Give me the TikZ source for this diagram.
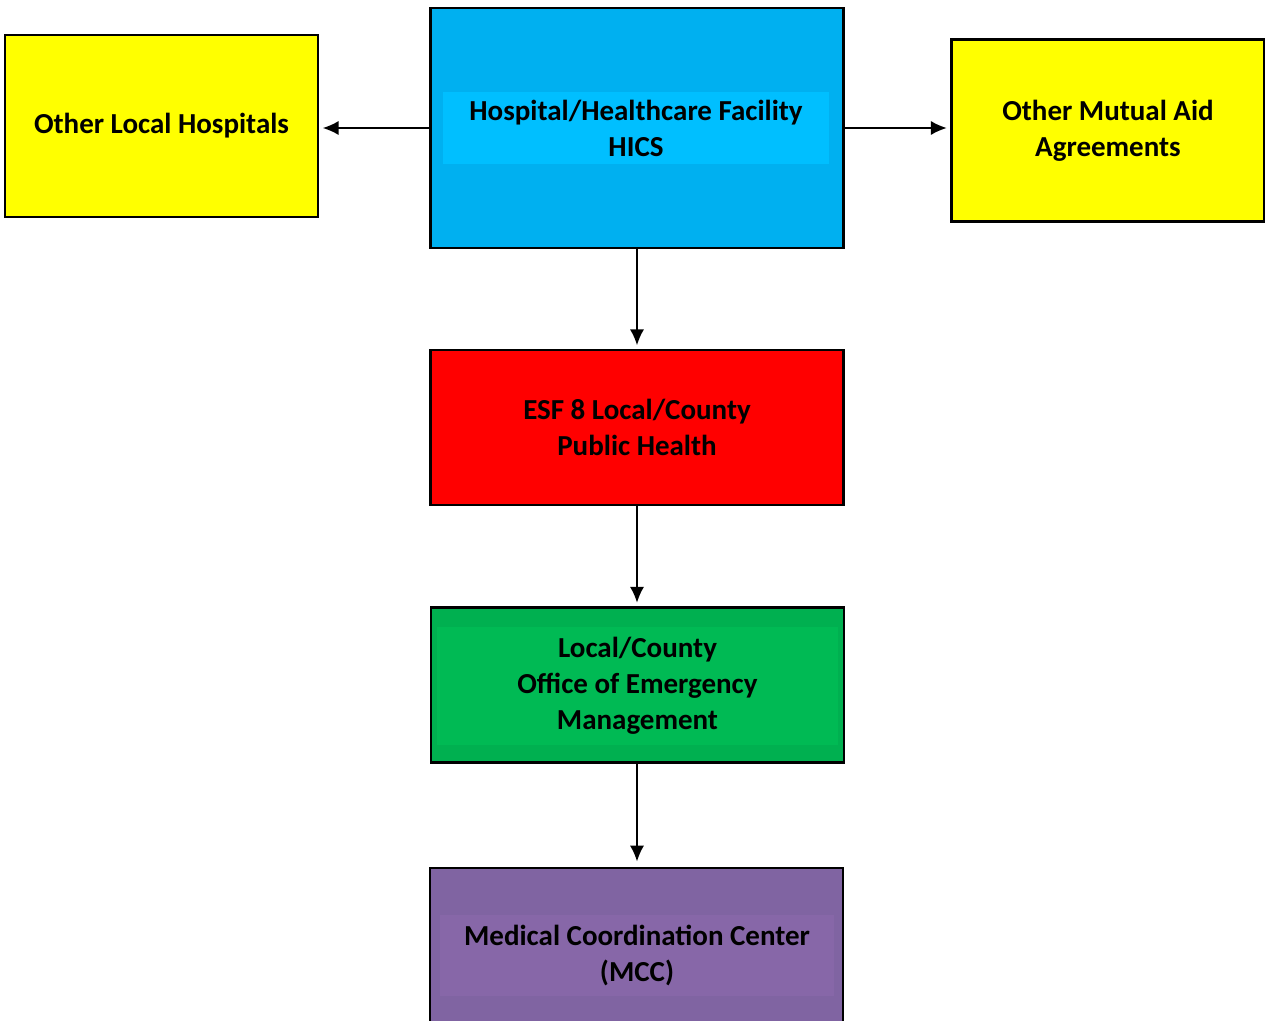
\documentclass[tikz,border=0pt]{standalone}
\usepackage{fontspec}
\setmainfont{Carlito}
\usetikzlibrary{arrows.meta, positioning}
\usepackage{xcolor}

\definecolor{hicsblue}{HTML}{00B0F0}
\definecolor{hicslight}{HTML}{00BFFF}
\definecolor{aidyellow}{HTML}{FFFF00}
\definecolor{esfred}{HTML}{FF0000}
\definecolor{oemgreen}{HTML}{00B050}
\definecolor{oemlight}{HTML}{00BA54}
\definecolor{mccpurple}{HTML}{8064A2}
\definecolor{mcclight}{HTML}{8767A8}

\begin{document}
\begin{tikzpicture}[
    x=0.02cm,
    y=-0.02cm,
    >=Latex,
    box/.style={rectangle, draw=black, line width=1.4pt, inner sep=0pt},
    mainbox/.style={box, minimum width=8.26cm, minimum height=3.1cm},
    sidebox/.style={box, fill=aidyellow, minimum width=6.26cm, minimum height=3.64cm, align=center},
    inner/.style={rectangle, inner sep=0pt, align=center},
    lbl/.style={font=\fontsize{16.5}{20.5}\selectfont\bfseries},
    line/.style={-{Latex[length=9pt, width=8pt]}, line width=1pt, shorten >=2pt}
]
\useasboundingbox (0,0) rectangle (1265,1021);
\clip (0,0) rectangle (1265,1021);

\node[mainbox, fill=hicsblue, minimum height=4.8cm] (hosp) at (637, 128) {};
\node[inner, lbl, fill=hicslight, minimum width=7.72cm, minimum height=1.44cm] (hosptext) at (636, 128) {Hospital/Healthcare Facility\\HICS};
\node[sidebox, lbl] (local) at (161.5, 126) {Other Local Hospitals};
\node[sidebox, lbl] (mutual) at (1108, 130.5) {Other Mutual Aid\\Agreements};
\node[mainbox, lbl, fill=esfred, align=center] (esf) at (637, 427.5) {ESF 8 Local/County\\Public Health};
\node[mainbox, fill=oemgreen] (oem) at (637.5, 685) {};
\node[inner, lbl, fill=oemlight, minimum width=8.02cm, minimum height=2.36cm] (oemtext) at (637.5, 686) {Local/County\\Office of Emergency\\Management};
\node[mainbox, fill=mccpurple] (mcc) at (636.5, 945.5) {};
\node[inner, lbl, fill=mcclight, minimum width=7.88cm, minimum height=1.62cm] (mcctext) at (637, 955.5) {Medical Coordination Center\\(MCC)};

\draw[line] (hosp.west) -- (local.east |- hosp.west);
\draw[line] (hosp.east) -- (mutual.west |- hosp.east);
\draw[line] (hosp.south) -- (esf.north);
\draw[line] (esf.south) -- (esf.south |- oem.north);
\draw[line, shorten >=3pt] (oem.south -| esf.south) -- (esf.south |- mcc.north);
\end{tikzpicture}
\end{document}
